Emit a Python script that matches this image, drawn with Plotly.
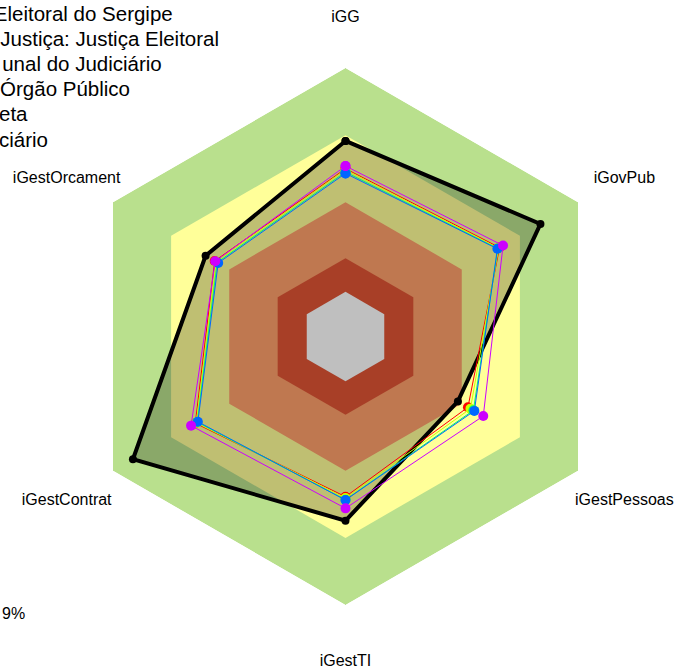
import plotly.graph_objects as go

categories = ["iGG", "iGovPub", "iGestPessoas", "iGestTI", "iGestContrat", "iGestOrcament"]

band_levels = [100, 70, 40, 15, 0]
band_colors = ["#B9E08D", "#FFFF99", "#FFA06B", "#E05535", "#FFFFFF"]

series_names = [
    "Eleitoral do Sergipe",
    "Justiça: Justiça Eleitoral",
    "unal do Judiciário",
    "Órgão Público",
    "eta",
    "ciário",
]
series_colors = ["#000000", "#FF0000", "#CCFF00", "#00FF66", "#0066FF", "#CC00FF"]

tre_se = [67.4, 80.6, 38.0, 62.3, 89.7, 52.2]
ramo = [55.0, 59.5, 43.2, 51.6, 57.5, 47.5]
tribunal = [54.5, 59.0, 44.5, 52.2, 57.0, 46.8]
orgao = [53.5, 58.6, 46.0, 53.0, 56.5, 46.2]
meta = [52.9, 58.4, 46.5, 53.1, 56.2, 45.7]
judiciario = [56.2, 61.3, 51.1, 56.8, 59.7, 47.2]
series_values = [tre_se, ramo, tribunal, orgao, meta, judiciario]

note_text = "9%"

W, H = 679, 672
# layout geometry (figure pixels)
CX, CY, R_MAIN, R_LABEL = 345.5, 336.5, 268.5, 322.0
LABEL_DY = 3.0
LEGEND_FONT = 20.5

theta_closed = categories + categories[:1]

fig = go.Figure()

for lvl, col in zip(band_levels, band_colors):
    fig.add_trace(go.Scatterpolar(
        r=[lvl] * len(theta_closed), theta=theta_closed,
        mode="lines", fill="toself", fillcolor=col,
        line=dict(width=0, color=col), showlegend=False, hoverinfo="skip",
    ))

legend_ids = ["legend"] + ["legend%d" % k for k in range(2, len(series_names) + 1)]

for i, (name, vals, col) in enumerate(zip(series_names, series_values, series_colors)):
    main = i == 0
    fig.add_trace(go.Scatterpolar(
        r=vals + vals[:1], theta=theta_closed, name=name,
        mode="lines+markers",
        line=dict(color=col, width=4 if main else 1),
        marker=dict(color=col, size=8 if main else 10),
        fill="toself" if main else "none",
        fillcolor="rgba(0,0,0,0.25)" if main else None,
        legend=legend_ids[i], showlegend=True,
    ))

# category labels on an outer, transparent polar subplot
fig.add_trace(go.Scatterpolar(
    r=[100] * len(categories), theta=categories, subplot="polar2",
    mode="text", text=categories, textposition="middle center",
    textfont=dict(size=16, color="black"), cliponaxis=False,
    showlegend=False, hoverinfo="skip",
))

fig.add_annotation(
    text=note_text, xref="paper", yref="paper",
    x=0, y=(H - 613.5) / H, xanchor="left", yanchor="middle",
    showarrow=False, font=dict(size=16, color="black"),
)

# legend placement: left edge of each (partly hidden) entry and its text baseline
legend_lefts = [-46.2, -39.7, -37.8, -39.9, -41.0, -41.0]
legend_baselines = [20.7, 45.7, 70.7, 95.7, 121.0, 146.7]
legend_layout = {}
for lid, left, base in zip(legend_ids, legend_lefts, legend_baselines):
    legend_layout[lid] = dict(
        x=left / W, y=1 - (base - 27.5) / H, xanchor="left", yanchor="top",
        bgcolor="rgba(0,0,0,0)", font=dict(size=LEGEND_FONT, color="black"),
    )

fig.update_layout(
    width=W, height=H,
    margin=dict(l=0, r=0, t=0, b=0, autoexpand=False),
    paper_bgcolor="white", plot_bgcolor="white",
    font=dict(family="Arial", size=16, color="black"),
    showlegend=True,
    polar=dict(
        domain=dict(x=[(CX - R_MAIN) / W, (CX + R_MAIN) / W],
                    y=[(H - CY - R_MAIN) / H, (H - CY + R_MAIN) / H]),
        gridshape="linear",
        bgcolor="rgba(0,0,0,0)",
        radialaxis=dict(range=[-20, 100], visible=False, showgrid=False),
        angularaxis=dict(
            rotation=90, direction="clockwise", showline=False,
            showgrid=True, gridcolor="#D3D3D3", gridwidth=1,
            ticks="", showticklabels=False,
        ),
    ),
    polar2=dict(
        domain=dict(x=[(CX - R_LABEL) / W, (CX + R_LABEL) / W],
                    y=[(H - CY - LABEL_DY - R_LABEL) / H, (H - CY - LABEL_DY + R_LABEL) / H]),
        gridshape="linear",
        bgcolor="rgba(0,0,0,0)",
        radialaxis=dict(range=[0, 100], visible=False, showgrid=False),
        angularaxis=dict(
            rotation=90, direction="clockwise", showline=False,
            showgrid=False, ticks="", showticklabels=False,
            categoryorder="array", categoryarray=categories,
        ),
    ),
    **legend_layout,
)

fig.write_html("out.html", config={"displayModeBar": False},
               post_script="document.body.style.margin='0px';")
